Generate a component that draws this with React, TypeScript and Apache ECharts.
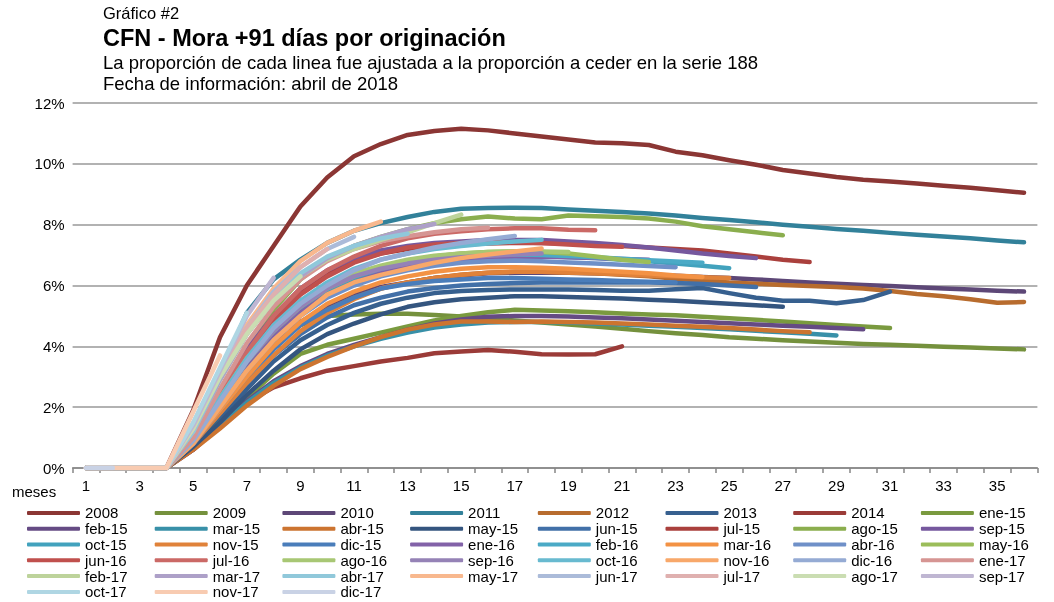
import React, { useEffect, useRef } from "react";
import * as echarts from "echarts";

const months = ["1","2","3","4","5","6","7","8","9","10","11","12","13","14","15","16","17","18","19","20","21","22","23","24","25","26","27","28","29","30","31","32","33","34","35","36"];

const seriesNames = ["2008","2009","2010","2011","2012","2013","2014","ene-15","feb-15","mar-15","abr-15","may-15","jun-15","jul-15","ago-15","sep-15","oct-15","nov-15","dic-15","ene-16","feb-16","mar-16","abr-16","may-16","jun-16","jul-16","ago-16","sep-16","oct-16","nov-16","dic-16","ene-17","feb-17","mar-17","abr-17","may-17","jun-17","jul-17","ago-17","sep-17","oct-17","nov-17","dic-17"];

const y2008 = [0,0,0,0,1.9,4.3,6.0,7.3,8.6,9.55,10.25,10.65,10.95,11.08,11.15,11.1,11.0,10.9,10.8,10.7,10.68,10.62,10.4,10.28,10.12,9.97,9.8,9.68,9.57,9.48,9.42,9.35,9.28,9.21,9.13,9.05];
const y2009 = [0,0,0,0,0.8,2.0,3.2,4.1,4.7,5.0,5.05,5.07,5.07,5.03,4.98,4.92,4.85,4.78,4.72,4.65,4.58,4.5,4.43,4.37,4.3,4.25,4.2,4.16,4.12,4.08,4.05,4.02,3.99,3.96,3.93,3.9];
const y2010 = [0,0,0,0,0.8,2.0,3.1,4.0,4.8,5.3,5.7,5.95,6.1,6.25,6.33,6.4,6.42,6.42,6.42,6.4,6.38,6.35,6.32,6.28,6.25,6.2,6.15,6.1,6.06,6.02,5.98,5.94,5.9,5.87,5.83,5.8];
const y2011 = [0,0,0,0,1.2,3.1,5.1,6.2,6.85,7.4,7.8,8.05,8.25,8.42,8.52,8.55,8.56,8.55,8.5,8.46,8.42,8.37,8.3,8.22,8.15,8.08,8.0,7.93,7.86,7.8,7.73,7.67,7.61,7.55,7.48,7.42];
const y2012 = [0,0,0,0,0.8,2.0,3.1,4.0,4.7,5.2,5.6,5.9,6.1,6.25,6.35,6.42,6.45,6.45,6.42,6.4,6.35,6.3,6.22,6.16,6.1,6.06,6.02,5.98,5.95,5.9,5.82,5.72,5.65,5.55,5.43,5.46];
const y2013 = [null,null,null,null,0.7,1.6,2.6,3.5,4.2,4.7,5.1,5.4,5.6,5.75,5.82,5.85,5.87,5.87,5.87,5.85,5.83,5.83,5.88,5.92,5.75,5.6,5.5,5.5,5.42,5.52,5.8];
const y2014 = [0,0,0,0,0.6,1.4,2.15,2.65,2.95,3.2,3.35,3.5,3.62,3.77,3.83,3.88,3.82,3.74,3.73,3.74,4.0];
const yEne15 = [0,0,0,0,0.7,1.5,2.3,3.1,3.75,4.05,4.25,4.45,4.65,4.85,5.0,5.12,5.2,5.18,5.15,5.12,5.08,5.05,5.02,4.97,4.92,4.87,4.82,4.76,4.7,4.65,4.6];
const yFeb15 = [0,0,0,0,0.6,1.4,2.2,2.85,3.35,3.75,4.05,4.3,4.55,4.75,4.88,4.97,5.0,5.0,4.98,4.95,4.92,4.88,4.84,4.8,4.76,4.72,4.68,4.64,4.6,4.56];
const yMar15 = [0,0,0,0,0.65,1.4,2.15,2.8,3.3,3.7,4.0,4.25,4.45,4.62,4.72,4.78,4.8,4.8,4.78,4.75,4.72,4.68,4.64,4.6,4.56,4.51,4.46,4.41,4.36];
const yAbr15 = [0,0,0,0,0.6,1.3,2.05,2.7,3.25,3.65,4.0,4.3,4.55,4.72,4.82,4.82,4.8,4.82,4.8,4.78,4.75,4.72,4.68,4.64,4.6,4.55,4.5,4.46];
const yMay15 = [0,0,0,0,0.7,1.5,2.4,3.2,3.9,4.4,4.75,5.05,5.3,5.45,5.55,5.6,5.65,5.65,5.62,5.6,5.57,5.53,5.5,5.45,5.4,5.35,5.3];
const yJun15 = [0,0,0,0,0.8,1.8,2.8,3.7,4.4,4.95,5.35,5.6,5.8,5.92,6.0,6.05,6.08,6.1,6.1,6.1,6.1,6.1,6.08,6.05,6.0,5.95];
const yJul15 = [0,0,0,0,1.0,2.4,3.8,4.9,5.8,6.4,6.8,7.05,7.2,7.3,7.35,7.38,7.4,7.4,7.38,7.35,7.3,7.25,7.2,7.15,7.05,6.95,6.85,6.77];
const yAgo15 = [0,0,0,0,1.0,2.5,3.9,5.2,6.2,6.9,7.3,7.6,7.85,8.05,8.18,8.27,8.2,8.18,8.3,8.28,8.25,8.2,8.1,7.95,7.85,7.75,7.65];
const ySep15 = [0,0,0,0,1.0,2.5,3.9,5.0,5.9,6.5,6.9,7.15,7.3,7.4,7.45,7.5,7.5,7.5,7.45,7.4,7.33,7.25,7.15,7.05,6.97,6.9];
const yOct15 = [0,0,0,0,0.9,2.2,3.4,4.4,5.2,5.8,6.2,6.5,6.7,6.82,6.9,6.95,6.97,6.97,6.93,6.9,6.85,6.8,6.72,6.65,6.57];
const yNov15 = [0,0,0,0,0.8,1.8,2.8,3.7,4.5,5.1,5.55,5.9,6.1,6.25,6.35,6.42,6.45,6.45,6.43,6.4,6.37,6.33,6.3,6.27,6.25];
const yDic15 = [0,0,0,0,0.8,1.9,3.0,3.9,4.7,5.2,5.6,5.9,6.05,6.15,6.2,6.25,6.25,6.22,6.2,6.18,6.15,6.12,6.1];
const yEne16 = [0,0,0,0,0.9,2.1,3.3,4.3,5.1,5.7,6.1,6.4,6.6,6.75,6.85,6.9,6.93,6.95,6.93,6.9,6.87,6.85];
const yFeb16 = [0,0,0,0,0.9,2.2,3.5,4.5,5.3,5.9,6.3,6.6,6.78,6.9,6.98,7.02,7.02,7.0,6.97,6.93,6.88,6.83,6.79,6.75];
const yMar16 = [0,0,0,0,0.8,1.9,3.0,4.0,4.8,5.4,5.8,6.1,6.3,6.45,6.55,6.6,6.6,6.58,6.55,6.5,6.45,6.4,6.33,6.28];
const yAbr16 = [0,0,0,0,0.8,2.0,3.2,4.2,5.0,5.6,6.0,6.3,6.5,6.65,6.75,6.8,6.82,6.8,6.76,6.72,6.68,6.64,6.6];
const yMay16 = [0,0,0,0,0.9,2.2,3.5,4.5,5.3,5.9,6.3,6.6,6.8,6.95,7.05,7.1,7.12,7.1,7.05,6.95,6.85,6.77];
const yJun16 = [0,0,0,0,0.9,2.3,3.7,4.8,5.7,6.3,6.75,7.05,7.25,7.35,7.4,7.42,7.42,7.4,7.35,7.3,7.27];
const yJul16 = [0,0,0,0,0.9,2.4,3.8,5.0,5.9,6.5,6.95,7.3,7.55,7.7,7.78,7.85,7.88,7.88,7.83,7.82];
const yAgo16 = [0,0,0,0,0.9,2.3,3.6,4.6,5.4,6.0,6.4,6.65,6.85,6.98,7.05,7.1,7.12,7.12,7.1];
const ySep16 = [0,0,0,0,0.9,2.2,3.5,4.5,5.3,5.9,6.3,6.55,6.72,6.85,6.93,6.98,7.02,7.05];
const yOct16 = [0,0,0,0,0.9,2.3,3.6,4.7,5.5,6.1,6.55,6.85,7.05,7.2,7.3,7.38,7.45,7.5];
const yNov16 = [0,0,0,0,0.8,2.0,3.2,4.2,5.0,5.7,6.1,6.35,6.55,6.75,6.9,7.02,7.12,7.22];
const yDic16 = [0,0,0,0,0.9,2.2,3.5,4.6,5.4,6.0,6.5,6.85,7.05,7.25,7.4,7.52,7.63];
const yEne17 = [0,0,0,0,1.0,2.6,4.1,5.3,6.2,6.8,7.2,7.45,7.62,7.75,7.85,7.9];
const yFeb17 = [0,0,0,0,1.2,2.9,4.4,5.5,6.3,6.85,7.2,7.5,7.75,8.05,8.33];
const yMar17 = [0,0,0,0,1.2,2.9,4.4,5.5,6.3,6.9,7.3,7.6,7.85,8.02];
const yAbr17 = [0,0,0,0,1.2,3.0,4.5,5.6,6.4,6.95,7.3,7.55,7.7];
const yMay17 = [0,0,0,0,1.3,3.1,4.7,5.9,6.8,7.4,7.8,8.1];
const yJun17 = [0,0,0,0,1.3,3.1,4.6,5.8,6.6,7.2,7.6];
const yJul17 = [0,0,0,0,1.3,3.1,4.6,5.7,6.6,7.2];
const yAgo17 = [0,0,0,0,1.3,3.0,4.4,5.5,6.3];
const ySep17 = [0,0,0,0,1.4,3.2,5.0,6.25];
const yOct17 = [0,0,0,0,1.5,3.3,5.1];
const yNov17 = [0,0,0,0,1.85,3.7];
const yDic17 = [0,0];

const seriesValues = [y2008,y2009,y2010,y2011,y2012,y2013,y2014,yEne15,yFeb15,yMar15,yAbr15,yMay15,yJun15,yJul15,yAgo15,ySep15,yOct15,yNov15,yDic15,yEne16,yFeb16,yMar16,yAbr16,yMay16,yJun16,yJul16,yAgo16,ySep16,yOct16,yNov16,yDic16,yEne17,yFeb17,yMar17,yAbr17,yMay17,yJun17,yJul17,yAgo17,ySep17,yOct17,yNov17,yDic17];

const palette = ["#8B3634","#75913D","#5D4777","#32819A","#B86C2E","#37608F","#9B3B38","#7A9A3F","#654B84","#3890A8","#CC7430","#34557F","#4270A8","#AA403D","#8BAE4E","#76589E","#42A2BD","#E0823A","#4A7DBA","#8262A8","#4BAAC6","#F39244","#6F90C8","#9BBD5A","#C0504D","#CB6966","#A8C774","#9582B6","#68BAD0","#F8A86A","#95ABD4","#D69593","#BDD39B","#ADA0C8","#90C8DA","#F8B88E","#ABBBD9","#DFB0AF","#CADDB2","#BFB6D2","#AFD6E3","#F8CBB1","#C9D2E5"];

const yTicks = [0, 2, 4, 6, 8, 10, 12];

export default function App() {
  const ref = useRef<HTMLDivElement>(null);
  useEffect(() => {
    const chart = echarts.init(ref.current as HTMLDivElement, null, { renderer: "svg" });
    const font = "Liberation Sans, Arial, sans-serif";
    const legends: any[] = [];
    for (let c = 0; c < 8; c++) {
      legends.push({
        orient: "vertical",
        left: 27 + c * 127.7,
        top: 505,
        padding: 0,
        itemGap: 0,
        itemWidth: 53,
        itemHeight: 4,
        icon: "roundRect",
        selectedMode: false,
        data: seriesNames.filter((_, i) => i % 8 === c),
        textStyle: { fontSize: 15, lineHeight: 15.8, color: "#000", fontFamily: font },
      });
    }
    const series = seriesNames.map((name, i) => ({
      name,
      type: "line",
      data: seriesValues[i],
      color: palette[i],
      symbol: "none",
      showSymbol: false,
      connectNulls: false,
      lineStyle: { width: 4.5, cap: "round", join: "round", color: palette[i] },
      emphasis: { disabled: true },
    }));
    chart.setOption({
      animation: false,
      textStyle: { fontFamily: font },
      grid: { left: 72.6, right: 16.6, top: 103, bottom: 134, containLabel: false },
      legend: legends,
      xAxis: {
        type: "category",
        data: months,
        boundaryGap: true,
        axisLine: { show: true, lineStyle: { color: "#868686", width: 1.5 } },
        axisTick: { show: true, interval: 0, length: 5, lineStyle: { color: "#868686", width: 1.5 } },
        axisLabel: { interval: 1, fontSize: 15, color: "#000", margin: 10, fontFamily: font },
        splitLine: { show: false },
      },
      yAxis: {
        type: "value",
        min: yTicks[0],
        max: yTicks[yTicks.length - 1],
        interval: 2,
        axisLine: { show: false },
        axisTick: { show: false },
        axisLabel: { formatter: "{value}%", fontSize: 15, color: "#000", margin: 8, fontFamily: font },
        splitLine: { show: true, lineStyle: { color: "#999999", width: 1.5 } },
      },
      graphic: [
        { type: "text", left: 103, top: 4, style: { text: "Gráfico #2", fontSize: 16.5, fontFamily: font, fill: "#000" } },
        { type: "text", left: 103, top: 26, style: { text: "CFN - Mora +91 días por originación", fontSize: 23.5, fontWeight: "bold", fontFamily: font, fill: "#000" } },
        { type: "text", left: 103, top: 53, style: { text: "La proporción de cada linea fue ajustada a la proporción a ceder en la serie 188", fontSize: 18.5, fontFamily: font, fill: "#000" } },
        { type: "text", left: 103, top: 74, style: { text: "Fecha de información: abril de 2018", fontSize: 18.5, fontFamily: font, fill: "#000" } },
        { type: "text", left: 12, top: 484, style: { text: "meses", fontSize: 15, fontFamily: font, fill: "#000" } },
      ],
      series,
    });
    return () => chart.dispose();
  }, []);
  return <div ref={ref} style={{ position: "fixed", left: 0, top: 0, width: 1054, height: 602 }} />;
}
